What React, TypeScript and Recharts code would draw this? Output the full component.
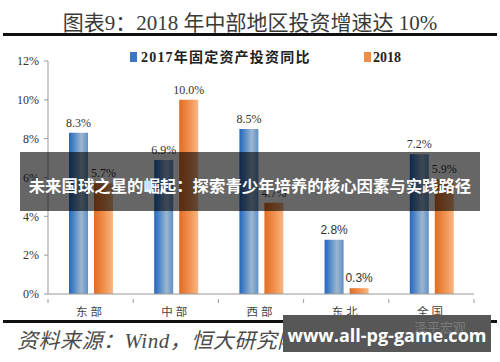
import React from 'react';
import { BarChart, Bar, XAxis, YAxis, LabelList } from 'recharts';

const categories = ['东部', '中部', '西部', '东北', '全国'];
const values2017 = [8.3, 6.9, 8.5, 2.8, 7.2];
const values2018 = [5.7, 10.0, 4.7, 0.3, 5.9];
const yTicks = [0, 2, 4, 6, 8, 10, 12];
const seriesNames = ['2017年固定资产投资同比', '2018'];
const titleText = '图表9：2018 年中部地区投资增速达 10%';
const sourceText = '资料来源：Wind，恒大研究院';
const bannerText = '未来国球之星的崛起：探索青少年培养的核心因素与实践路径';
const watermarkText = 'www.all-pg-game.com';

const data = categories.map((c, i) => ({ name: c, a: values2017[i], b: values2018[i] }));

const SERIF = "'Liberation Serif', 'Times New Roman', 'Noto Sans CJK SC', serif";
const SANS = "'Liberation Sans', Arial, sans-serif";
const CJK = "'Noto Sans CJK SC', sans-serif";

const makeLabel = (props: any) => {
  const { x, y, width, value, index } = props;
  const sans = index === 3;
  return (
    <text
      x={x + width / 2}
      y={y - 6}
      textAnchor="middle"
      fontSize={12}
      fill="#333"
      fontFamily={sans ? SANS : SERIF}
    >
      {Number(value).toFixed(1)}%
    </text>
  );
};

const CatTick = (props: any) => {
  const { x, y, payload, index, visibleTicksCount } = props;
  const half = payload && payload.offset ? payload.offset : 42.6;
  return (
    <g>
      <line x1={x - half} x2={x - half} y1={y - 3} y2={y + 1} stroke="#999" strokeWidth={1} />
      {index === (visibleTicksCount ?? 5) - 1 && (
        <line x1={x + half} x2={x + half} y1={y - 3} y2={y + 1} stroke="#999" strokeWidth={1} />
      )}
      <text x={x} y={y + 14} textAnchor="middle" fontSize={11.5} fill="#444" fontFamily={CJK} letterSpacing={3}>
        {payload.value}
      </text>
    </g>
  );
};

export default function App() {
  return (
    <div style={{ position: 'absolute', left: 0, top: 0, width: 500, height: 362, background: '#fff', overflow: 'hidden' }}>
      <BarChart
        width={500}
        height={362}
        data={data}
        margin={{ top: 61, right: 26, bottom: 0, left: 0 }}
        barSize={19}
        barGap={6}
      >
        <defs>
          <linearGradient id="gBlue" x1="0" y1="0" x2="1" y2="0">
            <stop offset="0%" stopColor="#2565bd" />
            <stop offset="25%" stopColor="#4d86c6" />
            <stop offset="65%" stopColor="#9db6cf" />
            <stop offset="100%" stopColor="#5f90c8" />
          </linearGradient>
          <linearGradient id="gOrange" x1="0" y1="0" x2="1" y2="0">
            <stop offset="0%" stopColor="#e06d22" />
            <stop offset="50%" stopColor="#f08e4c" />
            <stop offset="100%" stopColor="#f8b783" />
          </linearGradient>
        </defs>
        <XAxis
          dataKey="name"
          height={68}
          axisLine={{ stroke: '#999' }}
          tickLine={false}
          tick={<CatTick />}
          interval={0}
        />
        <YAxis
          width={48}
          domain={[0, 12]}
          ticks={yTicks}
          interval={0}
          tickFormatter={(v: number) => `${v}%`}
          axisLine={{ stroke: '#999' }}
          tickLine={{ stroke: '#999' }}
          tickSize={4}
          tickMargin={5}
          tick={{ fontSize: 12, fill: '#333', fontFamily: SERIF }}
        />
        <Bar dataKey="a" name={seriesNames[0]} fill="url(#gBlue)" isAnimationActive={false}>
          <LabelList dataKey="a" content={makeLabel} />
        </Bar>
        <Bar dataKey="b" name={seriesNames[1]} fill="url(#gOrange)" isAnimationActive={false}>
          <LabelList dataKey="b" content={makeLabel} />
        </Bar>
      </BarChart>
      <svg width={500} height={362} style={{ position: 'absolute', left: 0, top: 0, pointerEvents: 'none' }}>
        <text x={250} y={30} textAnchor="middle" fontSize={21} fill="#3a3a3a" fontFamily={SERIF}>
          {titleText}
        </text>
        <rect x={3} y={33} width={494} height={3} fill="#111" />
        <rect x={130} y={52} width={7} height={10} fill="#3b78c4" />
        <text x={141} y={62} fontSize={14} fontWeight="bold" fill="#222" fontFamily={SERIF} letterSpacing={1.2}>
          {seriesNames[0]}
        </text>
        <rect x={364} y={52} width={7} height={10} fill="#ef8c45" />
        <text x={373} y={62} fontSize={14} fontWeight="bold" fill="#222" fontFamily={SERIF}>
          {seriesNames[1]}
        </text>
        <rect x={3} y={320} width={494} height={3} fill="#111" />
        <text x={17} y={348} fontSize={21} fontStyle="italic" fill="#4a4a4a" fontFamily={SERIF} letterSpacing={0.5}>
          {sourceText}
        </text>
        <rect x={20} y={152} width={460} height={59} fill="#000" fillOpacity={0.6} />
        <text x={250} y={192} textAnchor="middle" fontSize={16.4} fontWeight="bold" fill="#fff" fontFamily={CJK}>
          {bannerText}
        </text>
        <rect x={283} y={315} width={208} height={37} fill="#575757" />
        <text x={440} y={332} textAnchor="middle" fontSize={13} fill="#7a7a7a" fontFamily={CJK}>
          泽平宏观
        </text>
        <text x={387} y={342} textAnchor="middle" fontSize={18} fontWeight="bold" fill="#fff" fontFamily="'Open Sans', 'Noto Sans', sans-serif">
          {watermarkText}
        </text>
      </svg>
    </div>
  );
}
